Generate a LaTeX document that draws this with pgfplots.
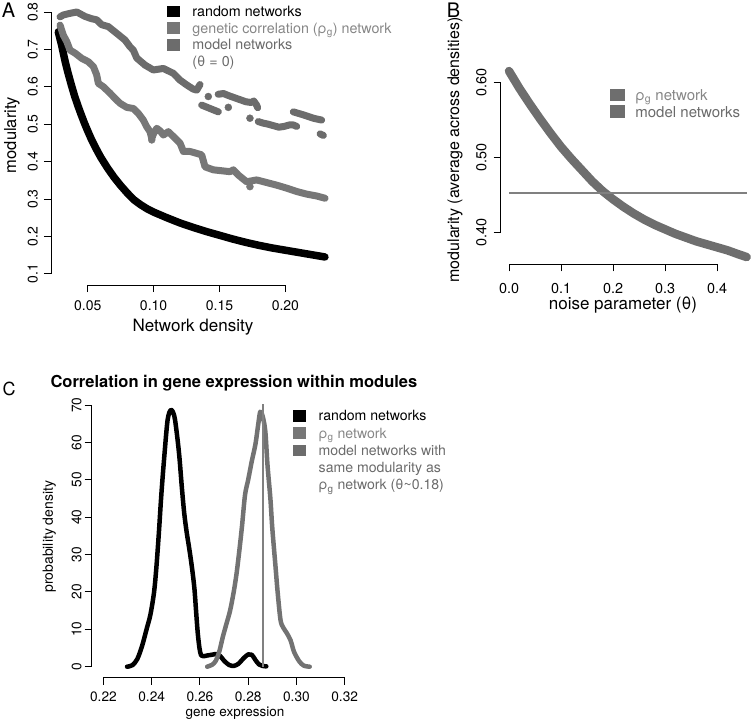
\documentclass[border=0pt]{standalone}
\usepackage{pgfplots}
\pgfplotsset{compat=1.18}
\usepackage{fontspec}
\setmainfont{TeX Gyre Heros}
\definecolor{gup}{HTML}{6C6C6C}
\definecolor{glo}{HTML}{777777}
\definecolor{txtg}{HTML}{868686}
\definecolor{txtm}{HTML}{6A6A6A}
\definecolor{gB}{HTML}{6E6E6E}
\definecolor{gC}{HTML}{727272}
\definecolor{gV}{HTML}{808080}
\begin{document}
\begin{tikzpicture}
\path[use as bounding box] (0pt,0pt) rectangle (751pt,724pt);
\pgfplotsset{
  rstyle/.style={scale only axis, axis x line*=bottom, axis y line*=left,
    axis line style={draw=none}, tick align=outside, major tick length=7pt,
    tick style={black,line width=0.9pt}, /pgf/number format/assume math mode=true,
    clip=false, legend cell align=left,
    xticklabel style={anchor=north, inner sep=0pt},
    yticklabel style={rotate=90, anchor=south, inner sep=0pt},
    xlabel style={inner sep=0pt}, ylabel style={inner sep=0pt},
    legend style={draw=none, fill=none, inner sep=0pt, outer sep=0pt, row sep=0pt,
      column sep=0pt, anchor=north west}},
  sqimg/.style={legend image code/.code={\fill[#1] (0pt,-5pt) rectangle (12pt,5.5pt); \path (0pt,-8pt) (25pt,8pt);}},
  sqimgB/.style={legend image code/.code={\fill[#1] (0pt,-5.5pt) rectangle (14pt,6pt); \path (0pt,-8pt) (25pt,8pt);}},
}
% panel letters
\node[font=\fontsize{20}{22}\selectfont] at (8.5pt,714pt) {A};
\node[font=\fontsize{20}{22}\selectfont] at (453.5pt,714pt) {B};
\node[font=\fontsize{18}{20}\selectfont] at (9pt,335pt) {C};
\node[font=\fontsize{16.5}{19}\selectfont\bfseries, anchor=base west] at (47pt,336.5pt) {Correlation in gene expression within modules};

%================ A
\begin{axis}[rstyle, width=284pt, height=280pt, at={(51pt,439pt)}, anchor=south west,
  xmin=0.02215, xmax=0.23764, ymin=0.07005, ymax=0.8187,
  xtick={0.05,0.1,0.15,0.2}, xticklabels={0.05,0.10,0.15,0.20},
  ytick={0.1,0.2,0.3,0.4,0.5,0.6,0.7,0.8}, yticklabels={0.1,0.2,0.3,0.4,0.5,0.6,0.7,0.8},
  tick label style={font=\fontsize{14}{16}\selectfont},
  xticklabel shift=8pt, yticklabel shift=6pt,
  xlabel={Network density},
  xlabel style={font=\fontsize{17}{20}\selectfont, at={([yshift=-41.7pt]axis description cs:0.5,0)}, anchor=center},
  ylabel={modularity},
  ylabel style={font=\fontsize{16.5}{19}\selectfont, at={([xshift=-39pt]axis description cs:0,0.5357)}, anchor=center},
  legend style={at={(axis description cs:0.4085,1.0071)}, font=\fontsize{14.3}{16}\selectfont,
    nodes={inner sep=0pt, text height=13.45pt, text depth=3.25pt}},
]
\draw[line width=0.9pt] (axis cs:0.05,0.07005) -- (axis cs:0.20,0.07005);
\draw[line width=0.9pt] (axis cs:0.02215,0.1) -- (axis cs:0.02215,0.8);
% random networks
\addplot[black, line width=7.5pt, line cap=round, line join=round, forget plot] coordinates {
(0.0277,0.747) (0.0290,0.728) (0.0303,0.710) (0.0315,0.690) (0.0330,0.666) (0.0350,0.638)
(0.0375,0.606) (0.0400,0.576) (0.0425,0.550) (0.0450,0.526) (0.0475,0.503) (0.0500,0.482)
(0.0525,0.462) (0.0550,0.444) (0.0575,0.427) (0.0600,0.411) (0.0650,0.383) (0.0700,0.358)
(0.0750,0.336) (0.0800,0.316) (0.0850,0.298) (0.0900,0.285) (0.0950,0.274) (0.1000,0.265)
(0.1100,0.250) (0.1200,0.236) (0.1300,0.224) (0.1400,0.213) (0.1500,0.203) (0.1600,0.193)
(0.1700,0.184) (0.1800,0.176) (0.1900,0.169) (0.2000,0.163) (0.2100,0.157) (0.2200,0.151)
(0.2300,0.145)};
% genetic correlation network (lower grey)
\addplot[glo, line width=7pt, line cap=round, line join=round, forget plot] coordinates {
(0.0290,0.765) (0.0315,0.738) (0.0341,0.721) (0.0366,0.698) (0.0404,0.690) (0.0455,0.676)
(0.0505,0.667) (0.0543,0.654) (0.0568,0.632) (0.0581,0.609) (0.0619,0.600) (0.0669,0.583)
(0.0707,0.569) (0.0745,0.556) (0.0796,0.545) (0.0846,0.542) (0.0884,0.529) (0.0922,0.511)
(0.0948,0.493) (0.0973,0.480) (0.0986,0.462) (0.1000,0.475) (0.1024,0.489) (0.1050,0.482)
(0.1074,0.471) (0.1112,0.480) (0.1150,0.467) (0.1201,0.449) (0.1226,0.427) (0.1277,0.427)
(0.1327,0.422) (0.1365,0.418) (0.1390,0.386) (0.1453,0.378) (0.1504,0.376) (0.1580,0.373)
(0.1605,0.378) (0.1643,0.364) (0.1706,0.346) (0.1782,0.351) (0.1858,0.344) (0.1934,0.337)
(0.2010,0.329) (0.2086,0.320) (0.2162,0.313) (0.2238,0.308) (0.2301,0.302)};
\addplot[glo, only marks, mark=*, mark size=3.5pt, mark options={draw=none, fill=glo}, forget plot] coordinates {
(0.0986,0.458) (0.1731,0.333)};
% model networks theta=0 (upper grey), chains
\addplot[gup, line width=7pt, line cap=round, line join=round, forget plot] coordinates {
(0.0290,0.787) (0.0315,0.792) (0.0360,0.796) (0.0417,0.800) (0.0480,0.788) (0.0530,0.782)
(0.0568,0.779) (0.0606,0.766) (0.0656,0.761) (0.0720,0.743) (0.0783,0.725) (0.0821,0.707)
(0.0846,0.698) (0.0872,0.677) (0.0935,0.658) (0.0998,0.645) (0.1074,0.649) (0.1150,0.636)
(0.1200,0.618) (0.1251,0.605) (0.1300,0.594) (0.1327,0.591) (0.1352,0.606)};
\addplot[gup, line width=7pt, line cap=round, line join=round, forget plot] coordinates {
(0.1365,0.551) (0.1428,0.542) (0.1491,0.533)};
\addplot[gup, line width=7pt, line cap=round, line join=round, forget plot] coordinates {
(0.1490,0.580) (0.1530,0.582) (0.1580,0.575) (0.1620,0.570) (0.1660,0.565) (0.1700,0.560)
(0.1740,0.558) (0.1760,0.562) (0.1780,0.552) (0.1790,0.544)};
\addplot[gup, line width=7pt, line cap=round, line join=round, forget plot] coordinates {
(0.1794,0.507) (0.1830,0.503) (0.1870,0.500) (0.1910,0.496) (0.1950,0.492) (0.1990,0.494)
(0.2030,0.498) (0.2060,0.498) (0.2086,0.494)};
\addplot[gup, line width=7pt, line cap=round, line join=round, forget plot] coordinates {
(0.2060,0.533) (0.2136,0.525) (0.2212,0.516) (0.2275,0.511)};
\addplot[gup, line width=7pt, line cap=round, line join=round, forget plot] coordinates {
(0.2263,0.474) (0.2288,0.470)};
\addplot[gup, only marks, mark=*, mark size=3.5pt, mark options={draw=none, fill=gup}, forget plot] coordinates {
(0.1415,0.574) (0.1567,0.545) (0.1731,0.516)};
\addlegendimage{sqimg=black}\addlegendentry{random networks}
\addlegendimage{sqimg=glo}\addlegendentry{\textcolor{txtg}{genetic correlation (ρ\textsubscript{g}) network}}
\addlegendimage{sqimg=gup}\addlegendentry{\textcolor{txtm}{model networks}}
\addlegendimage{empty legend}\addlegendentry{\textcolor{txtm}{(θ = 0)}}
\end{axis}

%================ B
\begin{axis}[rstyle, width=249.3pt, height=204.3pt, at={(500.7pt,459.7pt)}, anchor=south west,
  xmin=-0.01596, xmax=0.46346, ymin=0.35733, ymax=0.62973,
  xtick={0,0.1,0.2,0.3,0.4}, xticklabels={0.0,0.1,0.2,0.3,0.4},
  ytick={0.4,0.5,0.6}, yticklabels={0.40,0.50,0.60},
  tick label style={font=\fontsize{14.4}{16}\selectfont},
  xticklabel shift=11.7pt, yticklabel shift=7pt,
  xlabel={noise parameter (θ)},
  xlabel style={font=\fontsize{17}{20}\selectfont, at={([yshift=-41pt]axis description cs:0.4906,0)}, anchor=center},
  ylabel={modularity (average across densities)},
  ylabel style={font=\fontsize{16}{19}\selectfont, at={([xshift=-45.7pt]axis description cs:0,0.5595)}, anchor=center},
  legend style={at={(axis description cs:0.4384,0.8696)}, font=\fontsize{15}{17}\selectfont,
    nodes={inner sep=0pt, text height=13.75pt, text depth=2.95pt}},
]
\draw[line width=0.9pt] (axis cs:0,0.35733) -- (axis cs:0.4,0.35733);
\draw[line width=0.9pt] (axis cs:-0.01596,0.4) -- (axis cs:-0.01596,0.6);
\addplot[gB, line width=8.5pt, line cap=round, line join=round, forget plot] coordinates {
(0.000,0.615) (0.020,0.592) (0.040,0.571) (0.060,0.551) (0.080,0.532) (0.100,0.514)
(0.120,0.498) (0.140,0.483) (0.160,0.468) (0.180,0.455) (0.200,0.444) (0.220,0.434)
(0.240,0.425) (0.260,0.417) (0.280,0.410) (0.300,0.404) (0.320,0.398) (0.340,0.393)
(0.360,0.388) (0.380,0.384) (0.400,0.380) (0.420,0.376) (0.440,0.371) (0.457,0.367)};
\addplot[gV, line width=2pt, forget plot] coordinates {(0,0.453) (0.457,0.453)};
\addlegendimage{sqimgB=gB}\addlegendentry{\textcolor{txtg}{ρ\textsubscript{g} network}}
\addlegendimage{sqimgB=gB}\addlegendentry{\textcolor{txtm}{model networks}}
\end{axis}

%================ C
\begin{axis}[rstyle, width=253.3pt, height=277.7pt, at={(91.7pt,46.3pt)}, anchor=south west,
  xmin=0.21514, xmax=0.32013, ymin=-2.943, ymax=71.35,
  xtick={0.22,0.24,0.26,0.28,0.30,0.32}, xticklabels={0.22,0.24,0.26,0.28,0.30,0.32},
  ytick={0,10,20,30,40,50,60,70}, yticklabels={0,10,20,30,40,50,60,70},
  tick label style={font=\fontsize{13.7}{16}\selectfont},
  xticklabel shift=7pt, yticklabel shift=3pt,
  xlabel={gene expression},
  xlabel style={font=\fontsize{13.5}{16}\selectfont, at={([yshift=-35.6pt]axis description cs:0.5657,0)}, anchor=center},
  ylabel={probability density},
  ylabel style={font=\fontsize{14}{16}\selectfont, at={([xshift=-42.4pt]axis description cs:0,0.5077)}, anchor=center},
  legend style={at={(axis description cs:0.7959,0.9746)}, font=\fontsize{14.1}{16}\selectfont,
    nodes={inner sep=0pt, text height=13.7pt, text depth=3.6pt}},
]
\draw[line width=0.9pt] (axis cs:0.22,-2.943) -- (axis cs:0.32,-2.943);
\draw[line width=0.9pt] (axis cs:0.21514,0) -- (axis cs:0.21514,70);
\addplot[black, line width=4.5pt, line cap=round, line join=round, smooth, forget plot] coordinates {
(0.2298,0.0) (0.2320,0.4) (0.2340,2.0) (0.2360,5.5) (0.2380,10.3) (0.2395,14) (0.2410,20)
(0.2420,27) (0.2430,36) (0.2440,46) (0.2452,56) (0.2466,66) (0.2480,68.7) (0.2494,67)
(0.2505,62) (0.2515,56) (0.2525,48) (0.2535,41) (0.2545,36) (0.2556,31.5) (0.2567,26.5)
(0.2577,21) (0.2585,14) (0.2591,9) (0.2598,5) (0.2605,3) (0.2615,2.8) (0.2630,3.0)
(0.2650,3.2) (0.2670,3.4) (0.2685,2.8) (0.2700,1.6) (0.2720,0.5) (0.2740,0.2) (0.2760,0.8)
(0.2780,2.2) (0.2800,3.3) (0.2815,3.2) (0.2830,1.8) (0.2845,0.6) (0.2860,0.2) (0.2875,0.1)};
\addplot[gC, line width=4.5pt, line cap=round, line join=round, smooth, forget plot] coordinates {
(0.2630,0.0) (0.2650,0.5) (0.2665,1.5) (0.2680,4) (0.2695,8) (0.2710,11.5) (0.2725,15)
(0.2740,20) (0.2752,25) (0.2765,32) (0.2775,38) (0.2787,46) (0.2800,50) (0.2815,55)
(0.2830,59.5) (0.2842,65) (0.2850,68.2) (0.2860,67) (0.2871,63) (0.2880,54) (0.2892,45)
(0.2900,37) (0.2913,27) (0.2922,20) (0.2934,12.5) (0.2945,10.5) (0.2960,9) (0.2976,7)
(0.2990,4) (0.3011,1.5) (0.3030,0.3) (0.3055,0.0)};
\addplot[gV, line width=2pt, forget plot] coordinates {(0.2860,0) (0.2860,70.3)};
\addlegendimage{sqimg=black}\addlegendentry{random networks}
\addlegendimage{sqimg=glo}\addlegendentry{\textcolor{txtg}{ρ\textsubscript{g} network}}
\addlegendimage{sqimg=gup}\addlegendentry{\textcolor{txtm}{model networks with}}
\addlegendimage{empty legend}\addlegendentry{\textcolor{txtm}{same modularity as}}
\addlegendimage{empty legend}\addlegendentry{\textcolor{txtm}{ρ\textsubscript{g} network (θ\textasciitilde 0.18)}}
\end{axis}
\end{tikzpicture}
\end{document}
